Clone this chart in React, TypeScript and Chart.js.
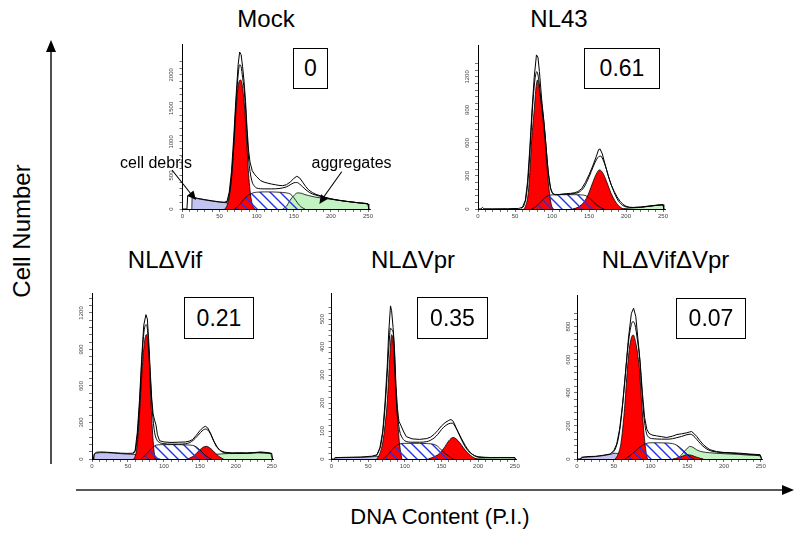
import React, { useEffect, useRef } from "react";
import { Chart, registerables } from "chart.js";
Chart.register(...registerables);

type P = [number, number][];

// ---------- text ----------
const titles = ["Mock", "NL43", "NLΔVif", "NLΔVpr", "NLΔVifΔVpr"];
const ratios = ["0", "0.61", "0.21", "0.35", "0.07"];
const xTickLabels = [0, 50, 100, 150, 200, 250];
const mockYTicks = [0, 500, 1000, 1500, 2000];
const nl43YTicks = [0, 300, 600, 900, 1200];
const vifYTicks = [0, 300, 600, 900, 1200];
const vprYTicks = [0, 100, 200, 300, 400, 500];
const vvYTicks = [0, 200, 400, 600, 800];

// ---------- Mock ----------
const mockData: P = [[0,0],[6,0],[7,200],[10,185],[15,172],[20,160],[30,140],[40,122],[50,106],[56,100],[60,115],[63,250],[66,560],[69,1060],[72,1650],[75,2150],[77,2340],[79,2300],[81,2120],[83,1900],[85,1600],[87,1200],[89,880],[91,700],[94,570],[97,520],[100,480],[105,425],[110,400],[115,385],[120,372],[125,362],[130,352],[135,348],[140,362],[145,400],[150,455],[154,488],[158,462],[162,400],[166,335],[170,285],[175,245],[180,218],[190,182],[200,152],[210,132],[220,116],[230,102],[240,90],[250,76],[251,0]];
const mockFit: P = [[58,95],[60,100],[63,220],[66,480],[69,950],[72,1550],[75,2000],[77,2150],[79,2120],[81,1960],[83,1790],[85,1500],[87,1120],[89,760],[91,560],[94,400],[97,340],[100,312],[110,300],[120,300],[130,305],[140,330],[145,360],[150,390],[154,395],[158,370],[162,330],[168,270],[175,225],[185,190],[200,150],[220,115],[250,76]];
const mockG1: P = [[57,0],[60,50],[63,180],[66,450],[69,900],[72,1450],[75,1830],[78,1925],[80,1880],[83,1600],[85,1300],[87,900],[89,530],[91,280],[93,120],[95,40],[98,0]];
const mockS: P = [[70,0],[75,40],[80,110],[85,170],[90,215],[95,240],[100,250],[110,255],[120,255],[130,250],[140,240],[145,225],[150,170],[155,90],[160,30],[165,0]];
const mockG2: P = [];
const mockAgg: P = [[135,0],[140,40],[145,130],[150,200],[155,240],[160,235],[165,215],[170,200],[180,175],[190,160],[200,145],[210,130],[220,115],[230,103],[240,90],[250,74],[251,0]];
const mockDebris: P = [[12.5,0],[13,170],[20,155],[30,135],[40,118],[50,103],[58,95],[65,75],[75,40],[85,12],[95,0]];

// ---------- NL43 ----------
const nl43Data: P = [[0,0],[4,0],[6,15],[8,2],[20,2],[40,3],[55,5],[60,15],[64,80],[67,250],[70,550],[73,900],[76,1200],[79,1400],[81,1380],[83,1250],[86,1000],[89,800],[92,560],[95,330],[98,190],[101,140],[105,128],[110,132],[115,136],[120,140],[125,142],[130,147],[135,158],[140,185],[145,240],[150,310],[155,390],[160,480],[163,540],[165,545],[168,500],[172,400],[176,300],[180,220],[184,160],[188,110],[192,70],[196,42],[200,25],[205,15],[210,14],[220,18],[230,26],[240,34],[250,40],[251,0]];
const nl43Fit: P = [[58,5],[62,30],[65,110],[68,300],[71,620],[74,950],[77,1180],[79.5,1248],[82,1180],[85,1000],[88,850],[91,650],[94,400],[97,230],[100,150],[105,132],[110,132],[120,134],[130,140],[137,155],[143,195],[148,260],[153,340],[158,420],[163,475],[166,480],[170,430],[174,350],[178,260],[182,185],[186,120],[190,70],[195,35],[200,20],[210,14],[220,16],[230,24],[240,32],[250,38]];
const nl43G1: P = [[62,0],[65,40],[68,150],[70,330],[72.5,627],[76,900],[78.5,1110],[80.5,1173],[83,1080],[85.5,950],[88,800],[90.5,627],[93,400],[96,180],[99,40],[102,0]];
const nl43S: P = [[72,0],[78,20],[84,60],[90,100],[95,122],[100,128],[110,130],[120,130],[130,130],[140,128],[146,120],[152,90],[158,50],[164,20],[170,0]];
const nl43G2: P = [[128,0],[135,15],[140,40],[145,80],[150,150],[155,240],[160,320],[164,355],[168,335],[172,280],[176,210],[180,140],[185,75],[190,30],[196,0]];
const nl43Agg: P = [[192,0],[200,6],[210,10],[220,15],[230,24],[240,32],[250,38],[251,0]];
const nl43Debris: P = [];

// ---------- NLΔVif ----------
const vifData: P = [[0,0],[2,0],[3,40],[6,55],[12,58],[20,56],[30,52],[40,48],[50,46],[57,48],[60,70],[63,220],[66,480],[69,820],[72,1100],[75,1186],[77,1150],[79,960],[81,720],[83,500],[85,370],[87,320],[89,280],[91,200],[94,150],[100,140],[110,136],[120,138],[130,140],[135,146],[140,160],[145,195],[150,232],[155,262],[158,268],[161,255],[165,210],[169,150],[173,102],[178,70],[185,55],[195,50],[205,52],[215,50],[225,53],[235,58],[245,52],[250,46],[251,0]];
const vifFit: P = [[57,45],[60,65],[63,180],[66,430],[69,770],[72,1030],[75,1104],[77,1070],[79,900],[81,680],[83,470],[85,320],[87,220],[90,160],[94,135],[100,126],[110,122],[120,122],[130,125],[136,135],[141,155],[146,185],[151,218],[155,240],[158,246],[162,232],[166,192],[170,142],[175,92],[180,62],[190,48],[200,47],[215,47],[230,52],[245,48],[250,44]];
const vifG1: P = [[58,0],[61,40],[63,130],[65,270],[67,460],[70,760],[73,960],[75.5,1022],[78,950],[80,760],[82,460],[84,240],[86,80],[88,0]];
const vifS: P = [[68,0],[74,30],[80,70],[85,100],[90,115],[100,118],[110,118],[120,118],[130,116],[140,112],[145,100],[150,75],[155,45],[160,20],[166,0]];
const vifG2: P = [[133,0],[140,20],[145,45],[150,75],[155,98],[159,104],[163,95],[168,70],[173,40],[178,15],[183,0]];
const vifAgg: P = [[150,0],[158,18],[165,30],[172,38],[180,42],[190,45],[200,45],[210,45],[220,48],[230,52],[240,50],[248,46],[251,0]];
const vifDebris: P = [[2.5,0],[3,35],[6,48],[12,52],[20,52],[30,48],[40,44],[50,40],[58,38],[65,30],[75,15],[85,5],[95,0]];

// ---------- NLΔVpr ----------
const vprData: P = [[0,0],[3,0],[5,5],[20,6],[40,7],[55,10],[62,15],[66,40],[70,100],[73,200],[76,330],[78,450],[80.5,547],[82,530],[84,470],[86,390],[88,260],[90,180],[92,135],[95,118],[98,100],[102,80],[110,72],[120,70],[130,73],[135,78],[140,88],[145,102],[150,118],[155,130],[160,138],[163,141],[166,135],[170,112],[174,88],[178,65],[182,45],[186,30],[190,20],[195,12],[200,8],[210,6],[220,5],[235,5],[250,5],[251,0]];
const vprFit: P = [[60,10],[64,25],[68,60],[72,150],[75,260],[78,390],[80.5,468],[82,462],[84,455],[86,370],[88,240],[90,160],[93,100],[96,78],[100,65],[110,60],[120,60],[130,62],[140,75],[145,88],[150,105],[155,118],[160,126],[165,128],[170,110],[175,85],[180,60],[185,38],[190,22],[195,12],[200,7],[210,5],[250,5]];
const vprG1: P = [[62,0],[66,20],[70,60],[73,120],[76,200],[79,340],[82,444],[84,420],[86,330],[88.6,200],[91,110],[93,50],[96,0]];
const vprS: P = [[70,0],[75,10],[80,25],[85,40],[90,50],[95,55],[100,56],[110,56],[120,56],[130,55],[140,52],[145,45],[150,32],[155,20],[160,10],[166,0]];
const vprG2: P = [[132,0],[140,8],[145,15],[150,28],[155,45],[160,65],[166,77],[170,72],[175,58],[180,40],[185,24],[190,12],[195,4],[198,0]];
const vprAgg: P = [[190,0],[200,3],[210,4],[230,5],[250,5],[251,0]];
const vprDebris: P = [[4,0],[6,4],[20,5],[40,6],[55,8],[62,10],[70,5],[80,0]];

// ---------- NLΔVifΔVpr ----------
const vvData: P = [[0,0],[5,0],[7,10],[15,15],[25,16],[35,22],[45,30],[50,50],[54,90],[58,180],[62,330],[66,520],[70,730],[74,880],[77,911],[80,860],[83,720],[86,580],[89,400],[92,250],[95,180],[98,155],[102,145],[108,140],[115,135],[122,130],[130,138],[136,148],[142,152],[149,158],[153,163],[156,166],[160,150],[163,136],[167,112],[172,86],[177,68],[181,56],[190,45],[199,40],[210,38],[222,35],[235,30],[249,26],[251,0]];
const vvFit: P = [[48,35],[52,60],[56,120],[60,240],[64,420],[68,620],[72,770],[76,830],[79,810],[82,725],[85,620],[88,430],[91,260],[94,165],[98,130],[105,122],[115,120],[125,120],[135,128],[142,136],[148,145],[154,150],[158,142],[163,118],[168,92],[174,68],[180,52],[190,42],[200,38],[220,32],[240,26],[250,22]];
const vvG1: P = [[52,0],[56,30],[60,100],[63,220],[65.3,338],[68.5,540],[72,690],[76.5,750],[80,700],[83,620],[85,540],[88,338],[91,160],[94,40],[96,0]];
const vvS: P = [[65,0],[72,20],[80,50],[88,80],[95,95],[100,98],[110,98],[120,97],[130,93],[135,85],[140,70],[145,50],[150,28],[155,10],[160,0]];
const vvG2: P = [[130,0],[138,8],[144,18],[150,26],[156,22],[162,12],[168,4],[172,0]];
const vvAgg: P = [[135,0],[140,15],[145,40],[150,65],[154,76],[158,70],[163,55],[170,44],[180,38],[200,32],[220,28],[240,22],[250,18],[251,0]];
const vvDebris: P = [[4,0],[6,10],[15,12],[25,15],[35,20],[45,28],[52,35],[58,30],[65,20],[75,5],[85,0]];

// ---------- layout (positions only) ----------
const X_MAX = 253;
type Geo = { left: number; ppc: number; top: number; bottom: number; yMax: number; yMinor: number };
type PanelDef = {
  data: P; fit: P; g1: P; s: P; g2: P; agg: P; debris: P; yLabels: number[]; geo: Geo;
};

const panels: PanelDef[] = [
  { data: mockData, fit: mockFit, g1: mockG1, s: mockS, g2: mockG2, agg: mockAgg, debris: mockDebris, yLabels: mockYTicks,
    geo: { left: 182.5, ppc: 0.742, top: 44, bottom: 209, yMax: 2460, yMinor: 100 } },
  { data: nl43Data, fit: nl43Fit, g1: nl43G1, s: nl43S, g2: nl43G2, agg: nl43Agg, debris: nl43Debris, yLabels: nl43YTicks,
    geo: { left: 478, ppc: 0.74, top: 45, bottom: 209, yMax: 1490, yMinor: 60 } },
  { data: vifData, fit: vifFit, g1: vifG1, s: vifS, g2: vifG2, agg: vifAgg, debris: vifDebris, yLabels: vifYTicks,
    geo: { left: 92, ppc: 0.719, top: 293, bottom: 459, yMax: 1364, yMinor: 60 } },
  { data: vprData, fit: vprFit, g1: vprG1, s: vprS, g2: vprG2, agg: vprAgg, debris: vprDebris, yLabels: vprYTicks,
    geo: { left: 331.5, ppc: 0.733, top: 293, bottom: 459, yMax: 593, yMinor: 20 } },
  { data: vvData, fit: vvFit, g1: vvG1, s: vvS, g2: vvG2, agg: vvAgg, debris: vvDebris, yLabels: vvYTicks,
    geo: { left: 577, ppc: 0.735, top: 295, bottom: 459, yMax: 991, yMinor: 40 } },
];

const titlePos = [[266, 27], [559, 27], [165, 268], [413, 268], [665.5, 268]];
const boxPos = [[293, 48, 35, 41], [584, 48, 76, 41], [184, 297, 70, 42], [417, 297, 71, 42], [676, 298, 70, 41]];

const FONT = '"Liberation Sans", Arial, Helvetica, sans-serif';
const Y_AXIS_W = 24;
const X_AXIS_H = 16;

function makeHatch(): CanvasPattern | string {
  const n = 10;
  const pc = document.createElement("canvas");
  pc.width = n;
  pc.height = n;
  const c = pc.getContext("2d");
  if (!c) return "rgba(0,0,255,0.3)";
  c.strokeStyle = "#2233e8";
  c.lineWidth = 1.4;
  c.beginPath();
  c.moveTo(-1, -1); c.lineTo(n + 1, n + 1);
  c.moveTo(-1, n - 1); c.lineTo(1, n + 1);
  c.moveTo(n - 1, -1); c.lineTo(n + 1, 1);
  c.stroke();
  const pat = c.createPattern(pc, "repeat");
  return pat || "rgba(0,0,255,0.3)";
}

const pts = (a: P) => a.map(([x, y]) => ({ x, y }));

function Panel({ p }: { p: PanelDef }) {
  const ref = useRef<HTMLCanvasElement>(null);
  const g = p.geo;
  const rightPx = g.left + X_MAX * g.ppc;
  const cLeft = Math.floor(g.left - Y_AXIS_W);
  const cTop = Math.floor(g.top - 4);
  const cW = Math.ceil(rightPx - cLeft + 8);
  const cH = Math.ceil(g.bottom + X_AXIS_H - cTop);
  const padLeft = g.left - cLeft - Y_AXIS_W;
  const padTop = g.top - cTop;
  const padRight = cW - (rightPx - cLeft);
  const padBottom = cH - X_AXIS_H - (g.bottom - cTop);

  useEffect(() => {
    const canvas = ref.current;
    if (!canvas) return;
    const hatch = makeHatch();
    const comp = (a: P, bg: any, extra: any = {}) => ({
      data: pts(a),
      backgroundColor: bg,
      borderColor: "#000",
      borderWidth: 0.8,
      fill: "origin",
      pointRadius: 0,
      cubicInterpolationMode: "monotone",
      ...extra,
    });
    const xTicks: number[] = [];
    for (let v = 0; v <= 250; v += 10) xTicks.push(v);
    const yTicks: number[] = [];
    const yTop = p.yLabels[p.yLabels.length - 1];
    for (let v = 0; v <= g.yMax; v += g.yMinor) if (v <= yTop + g.yMinor * 2 && v < g.yMax) yTicks.push(v);

    const chart = new Chart(canvas, {
      type: "line",
      data: {
        datasets: [
          { data: pts(p.data), borderColor: "#000", borderWidth: 1, fill: false, pointRadius: 0, tension: 0 } as any,
          { data: pts(p.fit), borderColor: "#000", borderWidth: 1, fill: false, pointRadius: 0, cubicInterpolationMode: "monotone" } as any,
          comp(p.s, hatch),
          comp(p.g2, "#ff0000"),
          comp(p.g1, "#ff0000"),
          comp(p.agg, "#c3f3c3"),
          comp(p.debris, "#c3c3f3"),
        ],
      },
      options: {
        animation: false,
        responsive: false,
        devicePixelRatio: 1,
        events: [],
        layout: { padding: { left: padLeft, top: padTop, right: padRight, bottom: padBottom } },
        plugins: { legend: { display: false }, tooltip: { enabled: false } },
        scales: {
          x: {
            type: "linear",
            min: 0,
            max: X_MAX,
            afterBuildTicks: (s: any) => { s.ticks = xTicks.map((v) => ({ value: v })); },
            afterFit: (s: any) => { s.height = X_AXIS_H; s.paddingLeft = 0; s.paddingRight = 0; },
            ticks: {
              autoSkip: false,
              maxRotation: 0,
              minRotation: 0,
              padding: 1,
              color: "#444",
              font: { size: 6, family: FONT },
              callback: (v: any) => (xTickLabels.includes(Number(v)) ? String(v) : ""),
            },
            grid: { display: true, drawOnChartArea: false, drawTicks: true, tickLength: 3, color: "#333", lineWidth: 0.7 },
            border: { display: true, color: "#000", width: 1 },
          },
          y: {
            type: "linear",
            min: 0,
            max: g.yMax,
            afterBuildTicks: (s: any) => { s.ticks = yTicks.map((v) => ({ value: v })); },
            afterFit: (s: any) => { s.width = Y_AXIS_W; s.paddingTop = 0; s.paddingBottom = 0; },
            ticks: {
              autoSkip: false,
              minRotation: 90,
              maxRotation: 90,
              crossAlign: "center",
              padding: 1,
              color: "#444",
              font: { size: 6, family: FONT },
              callback: (v: any) => (p.yLabels.includes(Number(v)) ? String(v) : ""),
            },
            grid: { display: true, drawOnChartArea: false, drawTicks: true, tickLength: 3, color: "#333", lineWidth: 0.7 },
            border: { display: true, color: "#000", width: 1 },
          },
        },
      } as any,
    });
    return () => chart.destroy();
  }, []);

  return (
    <canvas
      ref={ref}
      width={cW}
      height={cH}
      style={{ position: "absolute", left: cLeft, top: cTop, width: cW, height: cH }}
    />
  );
}

function Txt({ x, base, size, children, align = "center" }: any) {
  const w = 400;
  const left = align === "center" ? x - w / 2 : x;
  return (
    <div
      style={{
        position: "absolute",
        left,
        top: base - 0.8465 * size,
        width: w,
        textAlign: align,
        fontSize: size,
        lineHeight: size + "px",
        whiteSpace: "nowrap",
      }}
    >
      {children}
    </div>
  );
}

export default function App() {
  return (
    <div
      style={{
        position: "absolute",
        left: 0,
        top: 0,
        width: 800,
        height: 538,
        background: "#fff",
        color: "#000",
        fontFamily: FONT,
        overflow: "hidden",
      }}
    >
      {panels.map((p, i) => (
        <Panel key={i} p={p} />
      ))}
      {titles.map((t, i) => (
        <Txt key={"t" + i} x={titlePos[i][0]} base={titlePos[i][1]} size={24}>
          {t}
        </Txt>
      ))}
      {ratios.map((r, i) => (
        <div
          key={"b" + i}
          style={{
            position: "absolute",
            left: boxPos[i][0],
            top: boxPos[i][1],
            width: boxPos[i][2],
            height: boxPos[i][3],
            boxSizing: "border-box",
            border: "1px solid #000",
            background: "#fff",
            display: "flex",
            alignItems: "center",
            justifyContent: "center",
            fontSize: 23,
          }}
        >
          {r}
        </div>
      ))}
      <Txt x={120} base={169} size={16} align="left">cell debris</Txt>
      <Txt x={311.5} base={168.5} size={16} align="left">aggregates</Txt>
      <Txt x={440} base={525} size={22}>DNA Content (P.I.)</Txt>
      <div
        style={{
          position: "absolute",
          left: 22 - 100,
          top: 231 - 14,
          width: 200,
          height: 28,
          lineHeight: "28px",
          textAlign: "center",
          fontSize: 24,
          transform: "rotate(-90deg)",
          whiteSpace: "nowrap",
        }}
      >
        Cell Number
      </div>
      <svg width={800} height={538} style={{ position: "absolute", left: 0, top: 0, pointerEvents: "none" }}>
        <line x1={51} y1={464} x2={51} y2={50} stroke="#222" strokeWidth={1.6} />
        <polygon points="51,40 46,52 56,52" fill="#000" />
        <line x1={76} y1={490} x2={784} y2={490} stroke="#222" strokeWidth={1.6} />
        <polygon points="794,490 782,485 782,495" fill="#000" />
        <line x1={172} y1={170} x2={191} y2={194} stroke="#000" strokeWidth={1.1} />
        <polygon points="196,200 187.3,195.5 193.5,190.5" fill="#000" />
        <line x1={341.7} y1={171.7} x2={323} y2={198} stroke="#000" strokeWidth={1.1} />
        <polygon points="319.3,204 327.7,198.9 321.1,194.3" fill="#000" />
      </svg>
    </div>
  );
}
